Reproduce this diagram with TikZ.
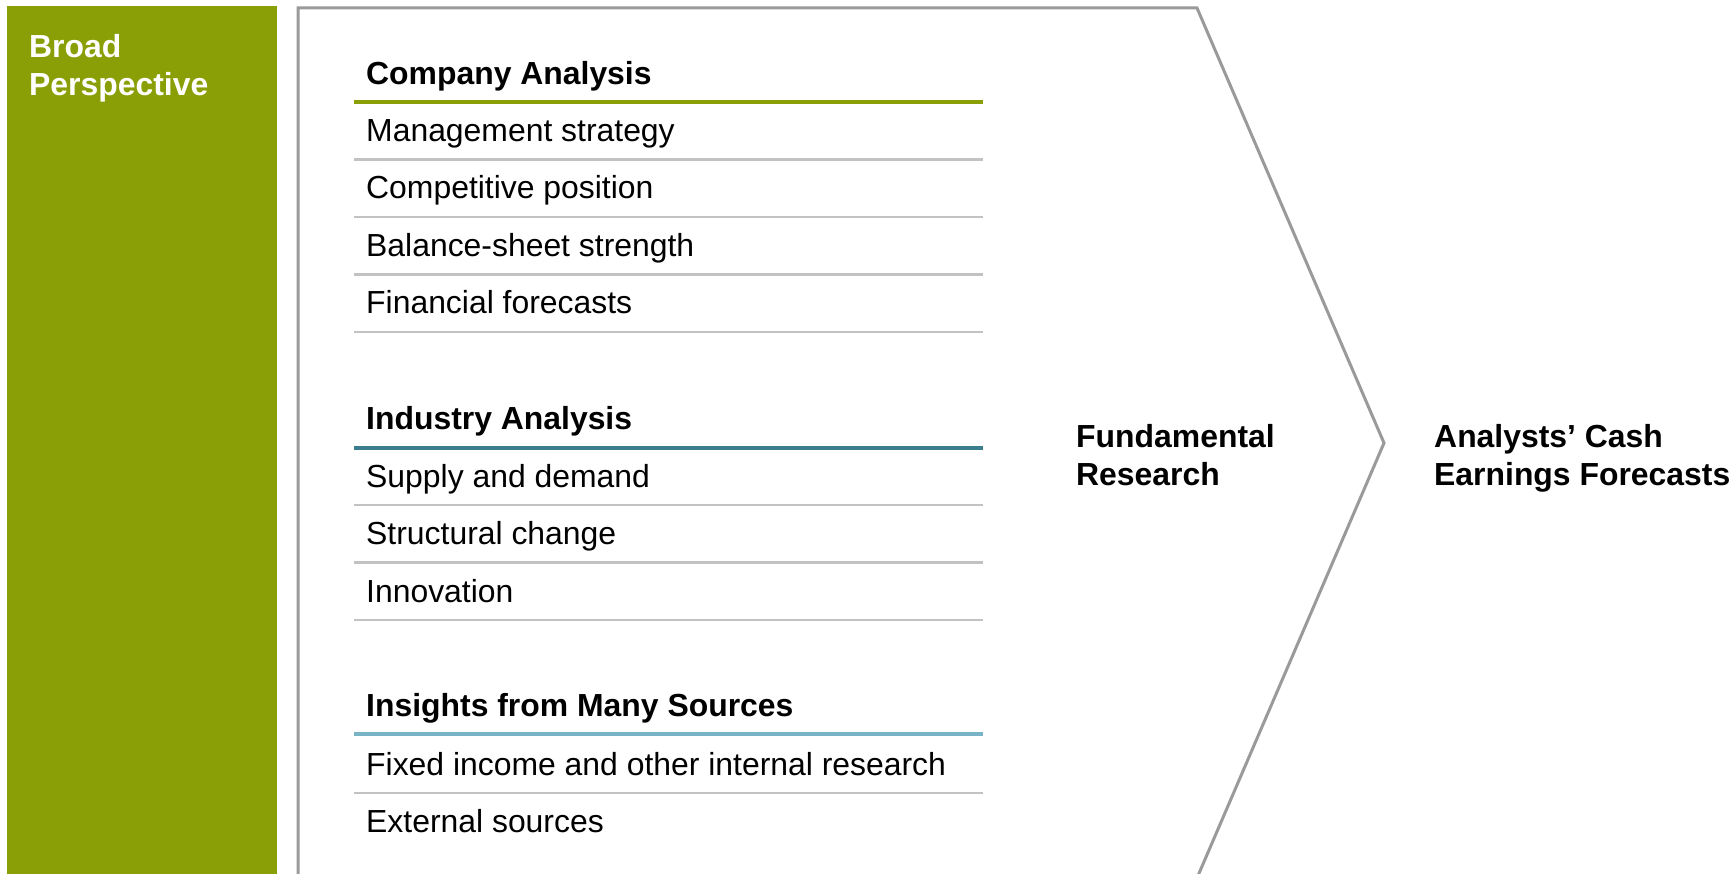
\documentclass[tikz,border=0pt]{standalone}
\usepackage{fontspec}
\setmainfont{Liberation Sans}
\definecolor{olive}{HTML}{8A9F05}
\definecolor{tealline}{HTML}{3A7E8E}
\definecolor{skyline}{HTML}{78B3C6}
\definecolor{rulegray}{HTML}{C2C2C2}
\definecolor{edgegray}{HTML}{9A9A9A}
\begin{document}
\begin{tikzpicture}[x=1pt,y=-1pt,
  txt/.style={anchor=base west,inner sep=0pt,font=\fontsize{31.9}{38}\selectfont},
  head/.style={txt,font=\fontsize{31.9}{38}\selectfont\bfseries},
  label/.style={anchor=base west,inner sep=0pt,align=left,font=\fontsize{31.9}{38}\selectfont\bfseries},
  itemrule/.style={draw=rulegray,line width=2.5pt},
  headrule/.style={line width=4pt}]
\useasboundingbox (0,0) rectangle (1736,874);

% left band (anchored at the baseline of its last line)
\fill[olive] (7,6) rectangle (277,880);
\node[label,text=white] (broad) at (29,95.5) {Broad\\Perspective};

% chevron outline
\coordinate (cBL) at (298,880);
\coordinate (cTL) at (298,8);
\coordinate (cTR) at (1197,8);
\coordinate (cTip) at (1384,443);
\coordinate (cBR) at (1197,878);
\draw[edgegray,line width=3pt,line join=miter] (cBL) -- (cTL) -- (cTR) -- (cTip) -- (cBR);

% company analysis
\node[head] (company) at (366,85) {Company Analysis};
\draw[headrule,olive] (354,102) -- (983,102);
\node[txt] (mgmt) at (366,141.5) {Management strategy};
\draw[itemrule] (354,159.5) -- (983,159.5);
\node[txt] (comp) at (366,199) {Competitive position};
\draw[itemrule] (354,217) -- (983,217);
\node[txt] (bal) at (366,256.5) {Balance-sheet strength};
\draw[itemrule] (354,274.5) -- (983,274.5);
\node[txt] (fin) at (366,314) {Financial forecasts};
\draw[itemrule] (354,332) -- (983,332);

% industry analysis
\node[head] (industry) at (366,429.5) {Industry Analysis};
\draw[headrule,tealline] (354,447.5) -- (983,447.5);
\node[txt] (supply) at (366,487) {Supply and demand};
\draw[itemrule] (354,505) -- (983,505);
\node[txt] (struct) at (366,544.5) {Structural change};
\draw[itemrule] (354,562.5) -- (983,562.5);
\node[txt] (innov) at (366,602) {Innovation};
\draw[itemrule] (354,620) -- (983,620);

% insights from many sources
\node[head] (insights) at (366,716) {Insights from Many Sources};
\draw[headrule,skyline] (354,734) -- (983,734);
\node[txt] (fixed) at (366,775) {Fixed income and other internal research};
\draw[itemrule] (354,793) -- (983,793);
\node[txt] (ext) at (366,832.5) {External sources};

% right-hand labels
\node[label] (fund) at (1076,485) {Fundamental\\Research};
\node[label] (analysts) at (1434,485) {Analysts’ Cash\\Earnings Forecasts};
\end{tikzpicture}
\end{document}
